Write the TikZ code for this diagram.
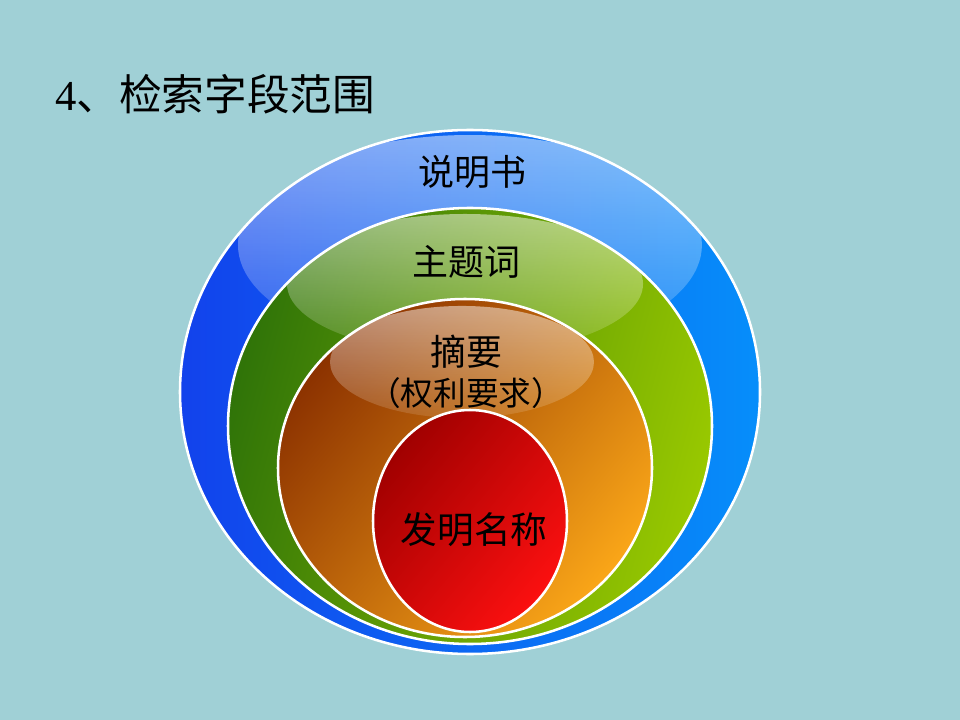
\documentclass[tikz,border=0pt]{standalone}
\usepackage{fontspec}
\setmainfont{Liberation Serif}
\newfontfamily\cjk{Noto Sans CJK SC}
\usetikzlibrary{fadings}
\definecolor{bg}{RGB}{160,208,214}
\definecolor{blueL}{RGB}{18,66,236}
\definecolor{blueR}{RGB}{6,142,250}
\definecolor{greenL}{RGB}{48,116,8}
\definecolor{greenR}{RGB}{152,200,0}
\definecolor{orangeL}{RGB}{140,50,0}
\definecolor{orangeR}{RGB}{250,166,24}
\definecolor{redL}{RGB}{160,0,0}
\definecolor{redR}{RGB}{252,16,16}
\tikzfading[name=gloss, top color=transparent!10, bottom color=transparent!80]
\tikzset{
  ring/.style={draw=white, line width=1.9pt},
  glossy/.style={fill=white, fill opacity=0.55, path fading=gloss},
  lbl/.style={font=\cjk\fontsize{27}{29}\selectfont, text=black, inner sep=0pt}
}
\begin{document}
\begin{tikzpicture}[x=0.75pt, y=-0.75pt]
\fill[bg] (0,0) rectangle (960,720);
\useasboundingbox (0,0) rectangle (960,720);
% title
\node[anchor=west, inner sep=0pt, font=\fontsize{32}{33}\selectfont] (title) at (55,94)
  {4{\cjk 、检索字段范围}};
% blue
\shade[left color=blueL, right color=blueR] (470,392) ellipse [x radius=290, y radius=262];
\begin{scope}
  \clip (470,392) ellipse [x radius=290, y radius=262];
  \fill[glossy] (470,245) ellipse [x radius=232, y radius=110];
\end{scope}
\draw[ring] (470,392) ellipse [x radius=290, y radius=262];
% green
\shade[left color=greenL, right color=greenR, shading angle=75] (470,426) ellipse [x radius=242, y radius=218];
\begin{scope}
  \clip (470,426) ellipse [x radius=242, y radius=218];
  \fill[glossy] (465,284) ellipse [x radius=178, y radius=70];
\end{scope}
\draw[ring] (470,426) ellipse [x radius=242, y radius=218];
% orange
\shade[left color=orangeL, right color=orangeR, shading angle=50] (465,468) ellipse [x radius=187, y radius=169];
\begin{scope}
  \clip (465,468) ellipse [x radius=187, y radius=169];
  \fill[glossy] (462,362) ellipse [x radius=132, y radius=56];
\end{scope}
\draw[ring] (465,468) ellipse [x radius=187, y radius=169];
% red
\shade[left color=redL, right color=redR, shading angle=50] (470,521) ellipse [x radius=97, y radius=111];
\draw[ring] (470,521) ellipse [x radius=97, y radius=111];
% labels
\node[lbl] (sms) at (472,172) {说明书};
\node[lbl] (ztc) at (466,262) {主题词};
\node[lbl] (zy) at (466,352) {摘要};
\node[lbl, font=\cjk\fontsize{24.5}{26}\selectfont] (qlyq) at (466,393) {（权利要求）};
\node[lbl, font=\cjk\fontsize{27.5}{29}\selectfont] (fmmc) at (474,530) {发明名称};
\end{tikzpicture}
\end{document}
